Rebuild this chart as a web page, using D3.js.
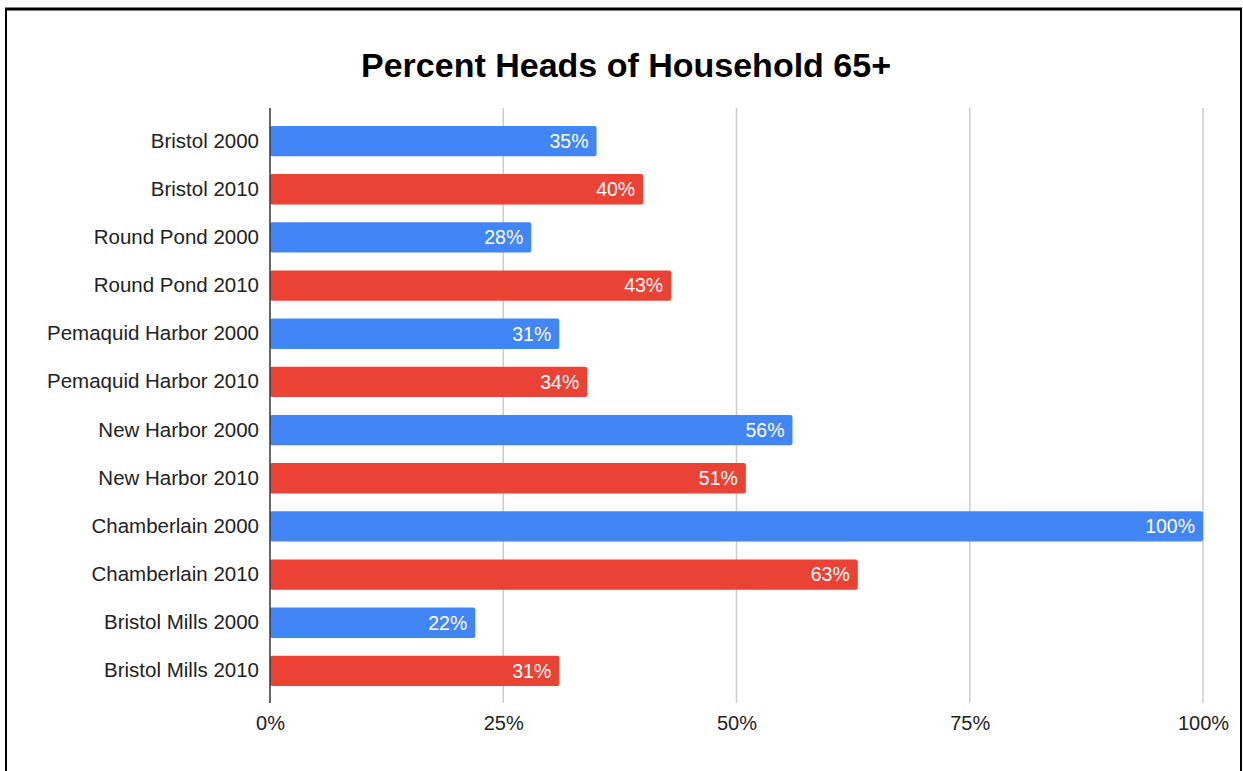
<!DOCTYPE html>
<html>
<head>
<meta charset="utf-8">
<script src="https://cdn.jsdelivr.net/npm/d3@7"></script>
<style>
  body { margin: 0; background: #fff; }
  text { font-family: "Liberation Sans", Arial, sans-serif; }
</style>
</head>
<body>
<div id="chart"></div>
<script>
// chart data
var categories = ['Bristol 2000', 'Bristol 2010', 'Round Pond 2000', 'Round Pond 2010',
  'Pemaquid Harbor 2000', 'Pemaquid Harbor 2010', 'New Harbor 2000', 'New Harbor 2010',
  'Chamberlain 2000', 'Chamberlain 2010', 'Bristol Mills 2000', 'Bristol Mills 2010'];
var values = [35, 40, 28, 43, 31, 34, 56, 51, 100, 63, 22, 31];
var years = ['2000', '2010', '2000', '2010', '2000', '2010', '2000', '2010', '2000', '2010', '2000', '2010'];
var ticks = [0, 25, 50, 75, 100];

var svgWidth = 1243;
var svgHeight = 771;

var svg = d3.select('#chart')
  .append('svg')
  .attr('width', svgWidth)
  .attr('height', svgHeight);

// frame
svg.append('rect')
  .attr('x', 6).attr('y', 9)
  .attr('width', 1235).attr('height', 780)
  .attr('fill', 'none')
  .attr('stroke', '#000')
  .attr('stroke-width', 2);
svg.append('line')
  .attr('x1', 5).attr('x2', 1242)
  .attr('y1', 9).attr('y2', 9)
  .attr('stroke', '#000')
  .attr('stroke-width', 3);

var x = d3.scaleLinear().domain([0, 100]).range([270, 1203]);
var y = d3.scaleBand().domain(categories).range([117, 695]).paddingInner(0.37).paddingOuter(0.185);

var color = d3.scaleOrdinal().domain(['2000', '2010']).range(['#4285f4', '#ea4335']);

// title
svg.append('text')
  .attr('x', 626)
  .attr('y', 77)
  .attr('text-anchor', 'middle')
  .style('font-size', '34px')
  .style('font-weight', 'bold')
  .text('Percent Heads of Household 65+');

// gridlines
svg.append('g')
  .selectAll('line')
  .data(ticks.slice(1))
  .enter()
  .append('line')
  .attr('x1', d => x(d)).attr('x2', d => x(d))
  .attr('y1', 108).attr('y2', 703)
  .attr('stroke', '#cccccc')
  .attr('stroke-width', 1.5);

// bars
svg.append('g')
  .selectAll('path')
  .data(categories)
  .enter()
  .append('rect')
  .attr('x', x(0))
  .attr('y', d => y(d))
  .attr('width', (d, i) => x(values[i]) - x(0))
  .attr('height', y.bandwidth())
  .attr('rx', 2)
  .attr('fill', (d, i) => color(years[i]));

// bar labels
svg.append('g')
  .selectAll('text')
  .data(categories)
  .enter()
  .append('text')
  .attr('x', (d, i) => x(values[i]) - 8)
  .attr('y', d => y(d) + y.bandwidth() / 2)
  .attr('dy', '0.35em')
  .attr('text-anchor', 'end')
  .attr('fill', '#fff')
  .style('font-size', '19.5px')
  .text((d, i) => values[i] + '%');

// y axis
var leftAxis = d3.axisLeft(y).tickSize(0).tickPadding(11);
var yAxis = svg.append('g')
  .attr('transform', 'translate(270, 0)')
  .call(leftAxis);
yAxis.select('.domain').remove();
yAxis.selectAll('text')
  .style('font-size', '20.5px')
  .attr('fill', '#222');
svg.append('line')
  .attr('x1', 270).attr('x2', 270)
  .attr('y1', 108).attr('y2', 703)
  .attr('stroke', '#333')
  .attr('stroke-width', 1.5);

// x axis
var bottomAxis = d3.axisBottom(x).tickValues(ticks).tickFormat(d => d + '%').tickSize(0).tickPadding(13);
var xAxis = svg.append('g')
  .attr('transform', 'translate(0, 703)')
  .call(bottomAxis);
xAxis.select('.domain').remove();
xAxis.selectAll('text')
  .style('font-size', '20px')
  .attr('fill', '#222');
</script>
</body>
</html>
